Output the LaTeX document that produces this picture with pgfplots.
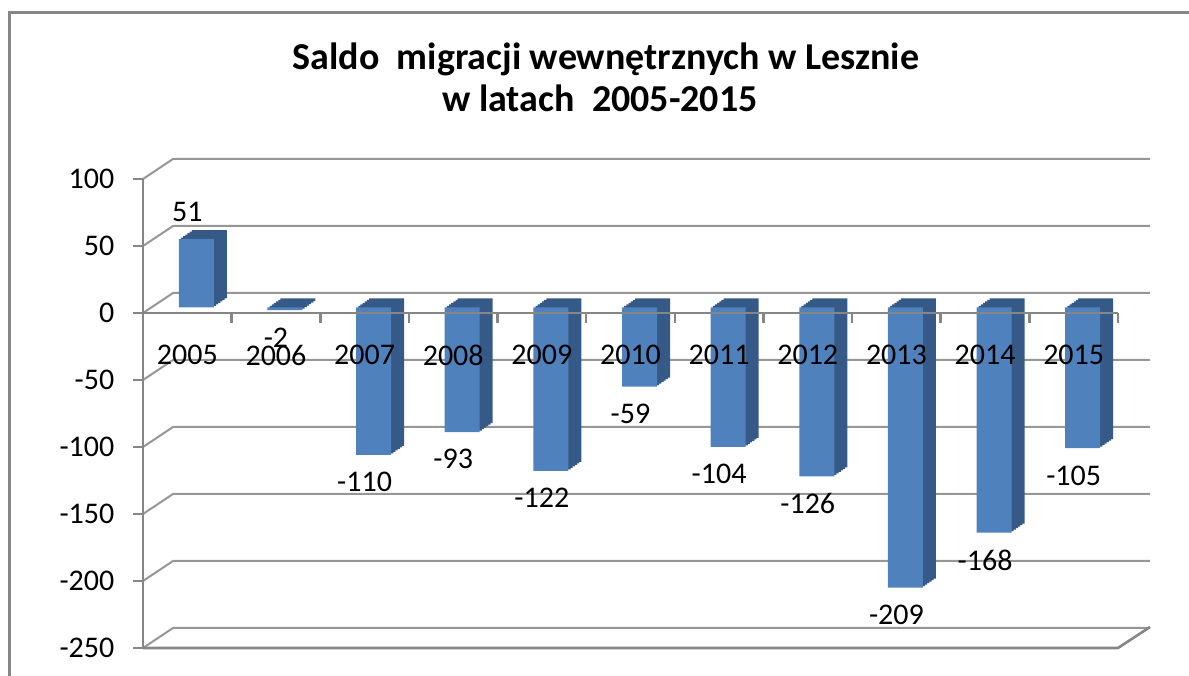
\documentclass[border=0pt]{standalone}
\usepackage{fontspec}
\setmainfont{Carlito}
\usepackage{pgfplots}
\usepackage{pgfplotstable}
\pgfplotsset{compat=1.18}
\definecolor{barfront}{RGB}{79,129,189}
\definecolor{barside}{RGB}{54,90,135}
\definecolor{gridc}{RGB}{150,150,150}
\definecolor{axisc}{RGB}{134,134,134}

\pgfplotstableread{
x y
0 51
1 -2
2 -110
3 -93
4 -122
5 -59
6 -104
7 -126
8 -209
9 -168
10 -105
}\datatable

\begin{document}
\begin{tikzpicture}
\useasboundingbox (-71.5pt,-13.5pt) rectangle (523pt,324pt);
\draw[axisc, line width=1.5pt] (-66.5pt,-14pt) -- (-66.5pt,317.5pt) -- (524pt,317.5pt);
\node[anchor=base, inner sep=0pt, font=\fontsize{19}{22}\selectfont\bfseries] at (231.5pt,289pt) {Saldo~ migracji wewnętrznych w Lesznie};
\node[anchor=base, inner sep=0pt, font=\fontsize{19}{22}\selectfont\bfseries] at (228.5pt,268pt) {w latach~ 2005-2015};
\begin{axis}[
  at={(0,0)}, anchor=south west,
  scale only axis, width=487.5pt, height=234.5pt,
  xmin=-0.5, xmax=10.5, ymin=-250, ymax=100,
  enlargelimits=false, clip=false,
  axis x line=middle, axis y line=left,
  axis line style={-, draw=axisc, line width=1.3pt},
  every inner x axis line/.append style={-},
  every outer y axis line/.append style={-},
  axis on top,
  xtick={0.5,1.5,...,10.5}, xticklabels={},
  ytick={-250,-200,...,100},
  tick align=outside, major tick length=5pt,
  tick style={draw=axisc, line width=1.3pt},
  extra x ticks={0,1,...,10},
  extra x tick labels={2005,2006,2007,2008,2009,2010,2011,2012,2013,2014,2015},
  extra x tick style={major tick length=0pt, xticklabel style={anchor=center, yshift=-21pt}},
  ticklabel style={font=\fontsize{15}{17}\selectfont, text=black},
  yticklabel style={xshift=-5.8pt},
  /pgf/number format/assume math mode=true,
]
\pgfplotsinvokeforeach{100,50,0,-50,-100,-150,-200,-250}{
  \draw[gridc, line width=1pt] (axis cs:-0.5,#1) -- ++(15pt,10pt) -- ++(488.5pt,0pt);
}
\draw[axisc, line width=1.3pt] (axis cs:-0.5,-250) -- (axis cs:10.5,-250) -- ++(16pt,10.5pt);

\addplot[ybar, fill=barside, draw=none, bar width=17.5pt, bar shift=11pt, yshift=7.25pt] table[x=x,y=y]{\datatable};
\addplot[ybar, fill=barside, draw=none, bar width=17.5pt, bar shift=9.9167pt, yshift=6.5pt] table[x=x,y=y]{\datatable};
\addplot[ybar, fill=barside, draw=none, bar width=17.5pt, bar shift=8.8333pt, yshift=5.75pt] table[x=x,y=y]{\datatable};
\addplot[ybar, fill=barside, draw=none, bar width=17.5pt, bar shift=7.75pt, yshift=5pt] table[x=x,y=y]{\datatable};
\addplot[ybar, fill=barside, draw=none, bar width=17.5pt, bar shift=6.6667pt, yshift=4.25pt] table[x=x,y=y]{\datatable};
\addplot[ybar, fill=barside, draw=none, bar width=17.5pt, bar shift=5.5833pt, yshift=3.5pt] table[x=x,y=y]{\datatable};
\addplot[ybar, fill=barfront, draw=none, bar width=17.5pt, bar shift=4.5pt, yshift=2.75pt,
  nodes near coords,
  nodes near coords style={font=\fontsize{15}{17}\selectfont, text=black, inner ysep=8.5pt}]
  table[x=x,y=y]{\datatable};
\end{axis}
\end{tikzpicture}
\end{document}
